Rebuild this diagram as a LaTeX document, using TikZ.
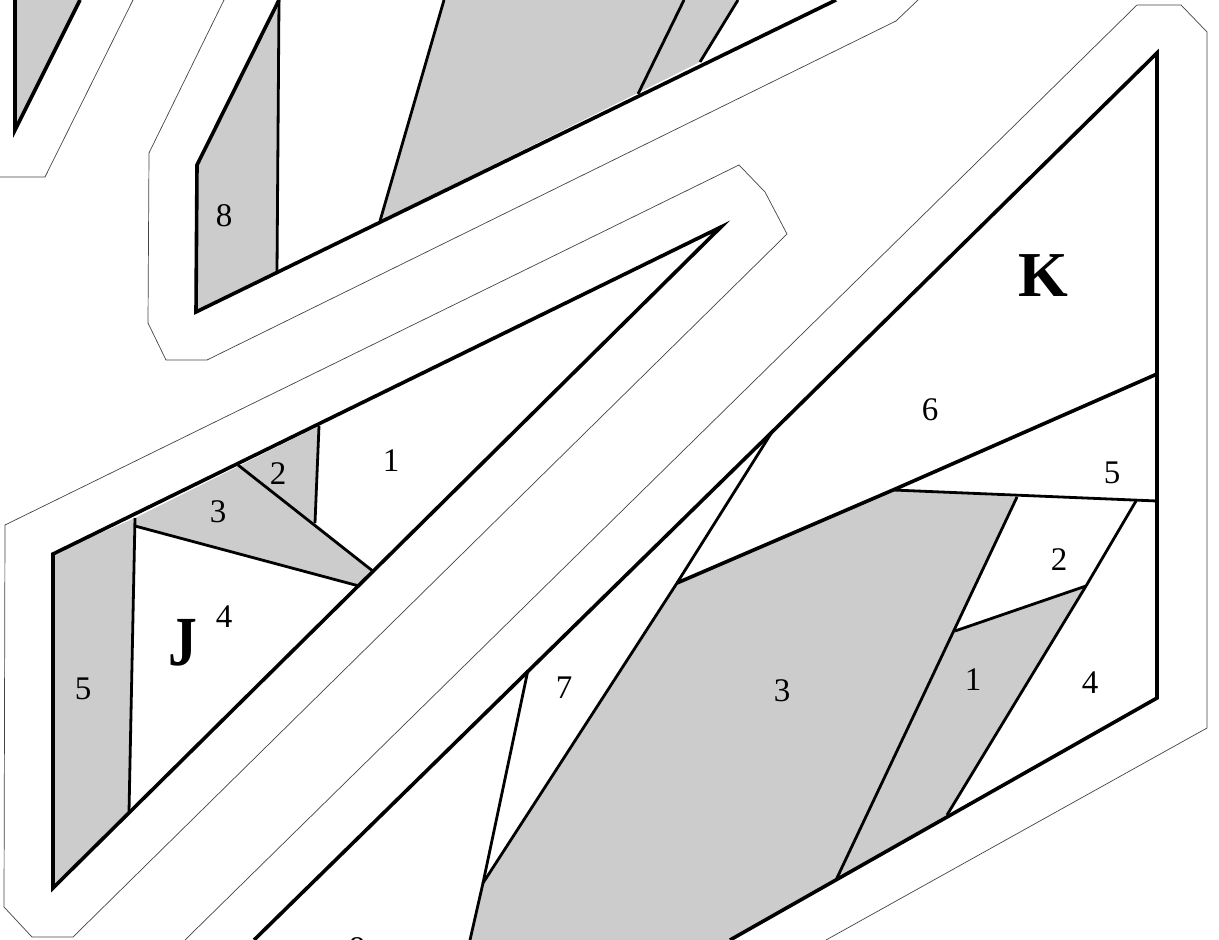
\documentclass[tikz,border=0pt]{standalone}
\usepackage{fontspec}
\setmainfont{Liberation Serif}
\usepackage{tikz}
\definecolor{panel}{HTML}{CCCCCC}
\definecolor{hull}{HTML}{444444}
\tikzset{
 edgeline/.style={line width=1.8pt,line join=miter,miter limit=20},
 innerline/.style={line width=1.4pt},
 hullline/.style={line width=.35pt,color=hull},
 numlabel/.style={font=\fontsize{16.5}{16.5}\selectfont,inner sep=0pt},
 biglabel/.style={font=\fontsize{32}{32}\selectfont\bfseries,inner sep=0pt}
}

\begin{document}
\begin{tikzpicture}[x=.5pt,y=-.5pt]
 \useasboundingbox (0,0) rectangle (1219,940);
 \clip (0,0) rectangle (1219,940);
 \fill[white] (0,0) rectangle (1219,940);
 % thin hulls
 \draw[hullline] (0,177)--(45,177)--(133,0);
 \draw[hullline] (224,0)--(149,153)--(148,323)--(166,360)--(207,360)--(896,21)--(918,0);
 \draw[hullline] (5,525)--(739,165)--(765,192)--(787,234)--(73,937)--(32,937)--(4,907)--cycle;
 \draw[hullline] (185,940)--(1137,5)--(1181,5)--(1207,32)--(1207,728)--(826,940);
 % shaded panels
 \fill[panel] (15,0)--(15,130)--(80,0)--cycle;
 \fill[panel] (197,165)--(279,0)--(277,272)--(196,312)--cycle;
 \fill[panel] (444,0)--(380,221)--(700,62)--(738,0)--cycle;
 \fill[panel] (53,554)--(135,518)--(129,812)--(53,888)--cycle;
 \fill[panel] (135,518)--(319,426)--(315,523)--(374,572)--(359,586)--(135,526)--cycle;
 \fill[panel] (677,583)--(893,490)--(1017,497)--(955,631)--(1086,586)--(947,815)--(730,940)--(470,940)--(483,883)--cycle;
 % heavy outlines
 \draw[edgeline] (15,0)--(15,130)--(80,0);
 \draw[edgeline] (279,0)--(197,165)--(196,312)--(836,0);
 \draw[edgeline] (53,888)--(53,554)--(721,227)--cycle;
 \draw[edgeline] (254,940)--(772,432)--(1157,53)--(1157,698)--(730,940);
 \draw[edgeline] (677,583)--(893,490)--(1157,374);
 % inner lines
 \draw[innerline] (279,0)--(277,272);
 \draw[innerline] (444,0)--(380,221);
 \draw[innerline] (684,0)--(638,94);
 \draw[innerline] (738,0)--(700,62);
 \draw[innerline] (135,518)--(129,812);
 \draw[innerline] (135,526)--(359,586);
 \draw[innerline] (238,465)--(374,572);
 \draw[innerline] (319,426)--(315,523);
 \draw[innerline] (772,432)--(677,583)--(483,883)--(470,940);
 \draw[innerline] (528,670)--(483,883);
 \draw[innerline] (893,490)--(1157,501);
 \draw[innerline] (1017,497)--(836,880);
 \draw[innerline] (1136,501)--(1086,586)--(947,815);
 \draw[innerline] (1086,586)--(955,631);
 % labels
 \foreach \nm/\x/\y/\t in {ea/224/216/8,eb/83/689/5,ec/224/617/4,ed/218/512/3,ee/278/474/2,
 ef/391/461/1,eg/930/410/6,eh/1112/473/5,ei/1059/560/2,ej/973/680/1,ek/1090/683/4,
 el/782/691/3,em/564/688/7,en/357/949/8}
   \node[numlabel] (\nm) at (\x,\y) {\t};
 \node[biglabel,yscale=1.1,xscale=.9] (J) at (183,643) {J};
 \node[biglabel] (K) at (1043,276) {K};
\end{tikzpicture}
\end{document}
